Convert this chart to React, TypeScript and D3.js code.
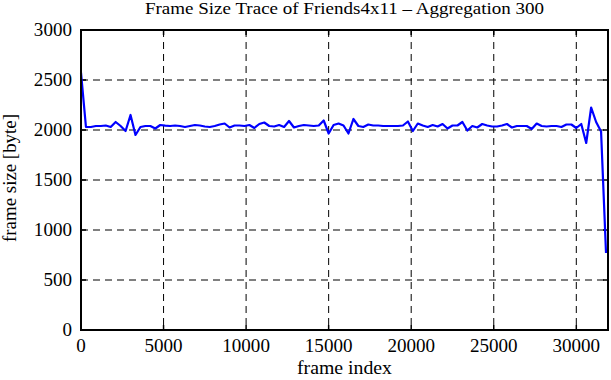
import React from 'react';
import * as d3 from 'd3';

// aggregated frame sizes, one value per 300 frames
const aggStep = 300;
const frameSizes = [
  2573, 2030, 2030, 2040, 2040, 2045, 2030, 2080, 2040, 1990,
  2150, 1950, 2030, 2040, 2040, 2015, 2050, 2043, 2040, 2045,
  2040, 2030, 2040, 2050, 2045, 2035, 2030, 2040, 2055, 2065,
  2025, 2045, 2045, 2040, 2050, 2020, 2060, 2075, 2040, 2035,
  2050, 2030, 2090, 2025, 2040, 2050, 2045, 2040, 2045, 2095,
  1965, 2050, 2065, 2045, 1965, 2110, 2040, 2030, 2055, 2045,
  2045, 2040, 2040, 2040, 2040, 2045, 2085, 1990, 2065, 2045,
  2030, 2050, 2035, 2060, 2015, 2045, 2045, 2080, 1995, 2040,
  2025, 2060, 2045, 2035, 2035, 2045, 2060, 2025, 2040, 2040,
  2040, 2010, 2065, 2040, 2035, 2040, 2040, 2030, 2055, 2055,
  2020, 2060, 1870, 2225, 2080, 1985, 770,
];

const xTicks = [0, 5000, 10000, 15000, 20000, 25000, 30000];
const yTicks = [0, 500, 1000, 1500, 2000, 2500, 3000];
const xMax = 31920;

const W = 611;
const H = 380;
const margin = { top: 30, right: 3, bottom: 50, left: 81 };
const font = "'Liberation Serif', 'Times New Roman', serif";

export default function App() {
  const innerW = W - margin.left - margin.right;
  const innerH = H - margin.top - margin.bottom;

  const x = d3.scaleLinear().domain([0, xMax]).range([0, innerW]);
  const y = d3.scaleLinear().domain([0, 3000]).range([innerH, 0]);

  const points = frameSizes.map((v, i) => [i * aggStep, v] as [number, number]);
  const line = d3.line<[number, number]>()
    .x(d => x(d[0]))
    .y(d => y(d[1]));

  const cx = margin.left + innerW / 2;

  return (
    <svg width={W} height={H} style={{ position: 'absolute', left: 0, top: 0, background: '#fff' }}>
      {/* eps-style text is a bit wider than the font, so stretch it a little */}
      <text transform={`translate(${cx},14) scale(1.12,1)`} textAnchor="middle"
        fontFamily={font} fontSize={17}>
        Frame Size Trace of Friends4x11 – Aggregation 300
      </text>
      <g transform={`translate(${margin.left},${margin.top})`}>
        {/* grid */}
        {xTicks.filter(t => t > 0).map(t => (
          <line key={'gx' + t} x1={x(t)} x2={x(t)} y1={0} y2={innerH}
            stroke="#000" strokeWidth={1} strokeDasharray="7,5" />
        ))}
        {yTicks.filter(t => t > 0 && t < 3000).map(t => (
          <line key={'gy' + t} x1={0} x2={innerW} y1={y(t)} y2={y(t)}
            stroke="#000" strokeWidth={1} strokeDasharray="7,5" />
        ))}

        {/* ticks, inward on all four sides */}
        {xTicks.map(t => (
          <g key={'tx' + t}>
            <line x1={x(t)} x2={x(t)} y1={innerH} y2={innerH - 5} stroke="#000" strokeWidth={1.5} />
            <line x1={x(t)} x2={x(t)} y1={0} y2={5} stroke="#000" strokeWidth={1.5} />
            <text transform={`translate(${x(t)},${innerH + 22}) scale(1.06,1)`} textAnchor="middle"
              fontFamily={font} fontSize={18}>{t}</text>
          </g>
        ))}
        {yTicks.map(t => (
          <g key={'ty' + t}>
            <line x1={0} x2={5} y1={y(t)} y2={y(t)} stroke="#000" strokeWidth={1.5} />
            <line x1={innerW} x2={innerW - 5} y1={y(t)} y2={y(t)} stroke="#000" strokeWidth={1.5} />
            <text transform={`translate(-9,${y(t) + 6}) scale(1.06,1)`} textAnchor="end"
              fontFamily={font} fontSize={18}>{t}</text>
          </g>
        ))}

        <path d={line(points) || ''} fill="none" stroke="#0000ff" strokeWidth={2.2} strokeLinejoin="round" />

        <rect x={0} y={0} width={innerW} height={innerH} fill="none" stroke="#000" strokeWidth={2} />
      </g>

      <text transform={`translate(${cx},${H - 6}) scale(1.1,1)`} textAnchor="middle" fontFamily={font} fontSize={18}>
        frame index
      </text>
      <text transform={`translate(16,${margin.top + innerH / 2 - 2}) rotate(-90) scale(1.05,1)`} textAnchor="middle"
        fontFamily={font} fontSize={18}>
        frame size [byte]
      </text>
    </svg>
  );
}
